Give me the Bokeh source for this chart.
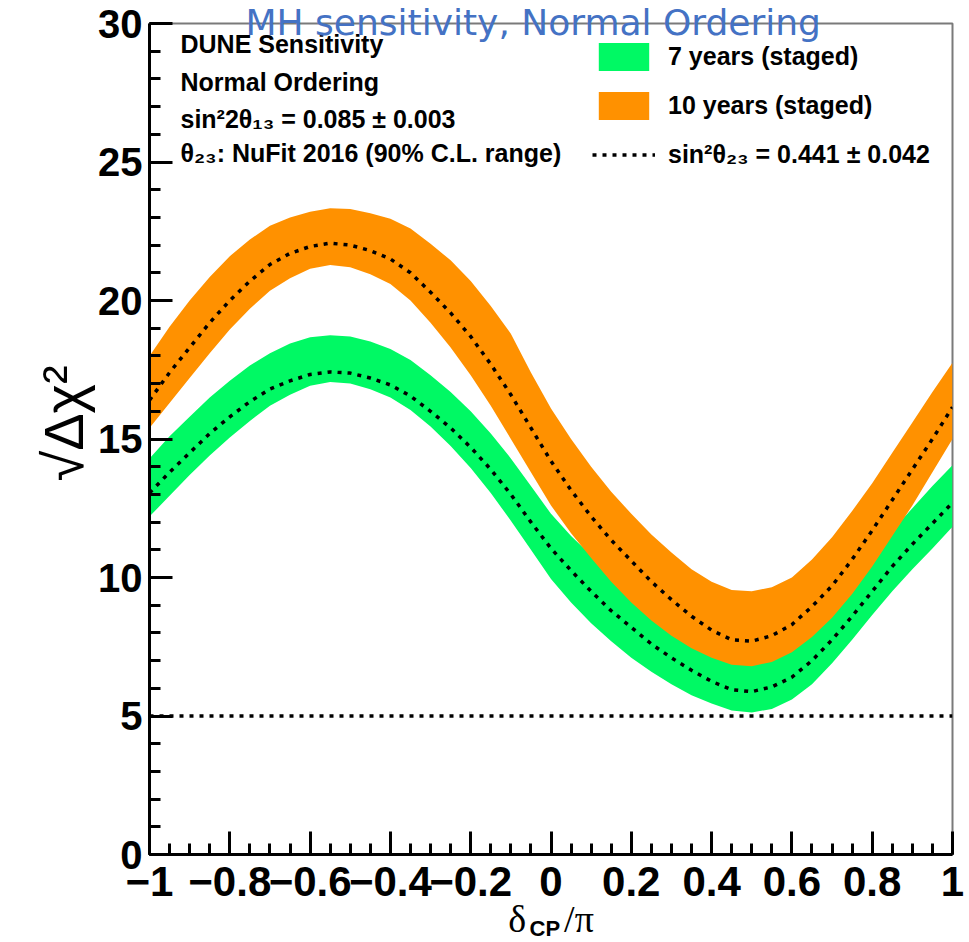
from bokeh.plotting import figure
from bokeh.models import Range1d, FixedTicker, Label, Legend, LegendItem, ColumnDataSource, Title
from bokeh.embed import file_html
from bokeh.resources import INLINE

# ---- data ----
delta_cp = [-1.00, -0.95, -0.90, -0.85, -0.80, -0.75, -0.70, -0.65, -0.60, -0.55,
            -0.50, -0.45, -0.40, -0.35, -0.30, -0.25, -0.20, -0.15, -0.10, -0.05,
            0.00, 0.05, 0.10, 0.15, 0.20, 0.25, 0.30, 0.35, 0.40, 0.45,
            0.50, 0.55, 0.60, 0.65, 0.70, 0.75, 0.80, 0.85, 0.90, 0.95, 1.00]

# 10 years (staged): band edges and central (dotted) curve
orange_upper = [18.0, 19.05, 20.0, 20.85, 21.6, 22.2, 22.7, 23.0, 23.2, 23.33,
                23.3, 23.15, 22.95, 22.6, 22.05, 21.45, 20.7, 19.8, 18.8, 17.4,
                16.1, 15.0, 14.0, 13.1, 12.3, 11.55, 10.9, 10.3, 9.85, 9.55,
                9.5, 9.65, 10.0, 10.65, 11.45, 12.4, 13.4, 14.5, 15.6, 16.7, 17.75]
orange_center = [16.4, 17.4, 18.3, 19.2, 20.0, 20.7, 21.3, 21.7, 21.95, 22.07,
                 22.0, 21.8, 21.5, 21.0, 20.3, 19.55, 18.7, 17.7, 16.6, 15.4,
                 14.2, 13.15, 12.2, 11.35, 10.6, 9.85, 9.2, 8.6, 8.1, 7.75,
                 7.7, 7.9, 8.3, 8.95, 9.7, 10.65, 11.7, 12.8, 13.9, 15.0, 16.15]
orange_lower = [15.4, 16.3, 17.2, 18.1, 18.95, 19.7, 20.35, 20.8, 21.15, 21.28,
                21.2, 20.95, 20.6, 20.0, 19.2, 18.3, 17.3, 16.2, 15.0, 13.8,
                12.6, 11.6, 10.7, 9.85, 9.1, 8.45, 7.9, 7.45, 7.1, 6.85,
                6.8, 6.95, 7.3, 7.85, 8.55, 9.4, 10.4, 11.5, 12.6, 13.8, 15.0]

# 7 years (staged): band edges and central (dotted) curve
green_upper = [14.3, 15.1, 15.8, 16.5, 17.1, 17.65, 18.1, 18.45, 18.67, 18.75,
               18.7, 18.52, 18.25, 17.85, 17.3, 16.7, 16.0, 15.2, 14.3, 13.3,
               12.3, 11.5, 10.8, 10.1, 9.5, 8.9, 8.4, 7.95, 7.55, 7.25,
               7.2, 7.35, 7.7, 8.3, 9.05, 9.9, 10.8, 11.7, 12.5, 13.3, 14.05]
green_center = [13.05, 13.8, 14.5, 15.2, 15.8, 16.35, 16.8, 17.1, 17.33, 17.42,
                17.38, 17.2, 16.95, 16.55, 16.0, 15.4, 14.7, 13.9, 13.0, 12.0,
                11.05, 10.25, 9.5, 8.8, 8.2, 7.6, 7.1, 6.65, 6.25, 5.95,
                5.88, 6.05, 6.4, 7.0, 7.75, 8.6, 9.5, 10.4, 11.2, 11.95, 12.7]
green_lower = [12.2, 12.95, 13.7, 14.4, 15.05, 15.65, 16.2, 16.6, 16.92, 17.06,
               17.0, 16.8, 16.5, 16.05, 15.45, 14.75, 13.95, 13.05, 12.05, 11.0,
               9.95, 9.1, 8.35, 7.7, 7.1, 6.6, 6.15, 5.75, 5.45, 5.2,
               5.13, 5.25, 5.6, 6.15, 6.9, 7.75, 8.65, 9.5, 10.3, 11.05, 11.83]

# 5 sigma reference line
threshold_x = [-1.0, 1.0]
threshold_y = [5.0, 5.0]

x_ticks = [-1, -0.8, -0.6, -0.4, -0.2, 0, 0.2, 0.4, 0.6, 0.8, 1]
x_tick_labels = ["\u22121", "\u22120.8", "\u22120.6", "\u22120.4", "\u22120.2", "0",
                 "0.2", "0.4", "0.6", "0.8", "1"]
y_ticks = [0, 5, 10, 15, 20, 25, 30]
y_tick_labels = ["0", "5", "10", "15", "20", "25", "30"]

GREEN = "#00F964"
ORANGE = "#FF9100"
NB = "\u00a0"

src = ColumnDataSource(dict(x=delta_cp, ou=orange_upper, oc=orange_center, ol=orange_lower,
                            gu=green_upper, gc=green_center, gl=green_lower))

p = figure(width=969, height=942, output_backend="svg", toolbar_location=None,
           x_range=Range1d(-1, 1), y_range=Range1d(0, 30),
           min_border_left=149, min_border_right=17, min_border_top=23, min_border_bottom=87)
p.background_fill_color = "white"
p.border_fill_color = "white"
p.grid.visible = False
p.outline_line_color = "#7a7a7a"
p.outline_line_width = 2

# slide title (negative standoff keeps the top border at 23 px)
p.title.text = "MH sensitivity, Normal Ordering"
p.title.align = "left"
p.title.offset = 96
p.title.text_font = "DejaVu Sans"
p.title.text_font_style = "normal"
p.title.text_font_size = "36px"
p.title.text_color = "#4472C4"
p.title.standoff = -39

g_band = p.varea(x="x", y1="gl", y2="gu", source=src, fill_color=GREEN)
o_band = p.varea(x="x", y1="ol", y2="ou", source=src, fill_color=ORANGE)
g_line = p.line(x="x", y="gc", source=src, line_color="black", line_width=3.5, line_dash="4 6")
o_line = p.line(x="x", y="oc", source=src, line_color="black", line_width=3.5, line_dash="4 6")
p.line(x=threshold_x, y=threshold_y, line_color="black", line_width=3.5, line_dash="4 6")

minor_x = [round(-1 + 0.05 * i, 2) for i in range(41)]
minor_y = list(range(0, 31))

xa = p.xaxis[0]
ya = p.yaxis[0]
xa.ticker = FixedTicker(ticks=x_ticks, minor_ticks=minor_x)
xa.major_label_overrides = {t: l for t, l in zip(x_ticks, x_tick_labels)}
ya.ticker = FixedTicker(ticks=y_ticks, minor_ticks=minor_y)
ya.major_label_overrides = {t: l for t, l in zip(y_ticks, y_tick_labels)}

for ax in (xa, ya):
    ax.axis_line_color = "black"
    ax.axis_line_width = 3
    ax.major_tick_line_color = "black"
    ax.minor_tick_line_color = "black"
    ax.major_tick_line_width = 3
    ax.minor_tick_line_width = 3
    ax.major_tick_in = 23
    ax.major_tick_out = 0
    ax.minor_tick_in = 11
    ax.minor_tick_out = 0
    ax.major_label_text_font = "Liberation Sans"
    ax.major_label_text_font_style = "bold"
    ax.major_label_text_color = "black"

xa.major_label_text_font_size = "42px"
xa.major_label_standoff = 12
ya.major_label_text_font_size = "40px"
ya.major_label_standoff = 7

# x-axis title: delta (gap) / pi ; the lowered CP subscript is a Title in the bottom panel
xa.axis_label = "\u03b4" + NB * 4 + "/\u03c0"
xa.axis_label_text_font = "Liberation Serif"
xa.axis_label_text_font_style = "normal"
xa.axis_label_text_font_size = "38px"
xa.axis_label_text_color = "black"
xa.axis_label_standoff = -1

ya.axis_label = NB * 2 + "\u221a\u0394\u03c7\u00b2"
ya.axis_label_text_font = "Liberation Sans"
ya.axis_label_text_font_style = "normal"
ya.axis_label_text_font_size = "56px"
ya.axis_label_standoff = 0
ya.axis_label_text_color = "black"

p.add_layout(Title(text="CP", align="left", offset=380, vertical_align="top", standoff=-54,
                   text_font="Liberation Sans", text_font_style="bold",
                   text_font_size="22px", text_color="black"), "below")

# info text block (inside the frame; screen y measured up from the frame bottom)
info_lines = ["DUNE Sensitivity", "Normal Ordering",
              "sin\u00b22\u03b8\u2081\u2083 = 0.085 \u00b1 0.003",
              "\u03b8\u2082\u2083: NuFit 2016 (90% C.L. range)"]
info_y = [797, 759, 722, 688]
for txt, yy in zip(info_lines, info_y):
    p.add_layout(Label(x=31, y=yy, x_units="screen", y_units="screen", text=txt,
                       text_font="Liberation Sans", text_font_style="bold",
                       text_font_size="25px", text_color="black"))

legend = Legend(items=[LegendItem(label="7 years (staged)", renderers=[g_band]),
                       LegendItem(label="10 years (staged)", renderers=[o_band]),
                       LegendItem(label="sin\u00b2\u03b8\u2082\u2083 = 0.441 \u00b1 0.042",
                                  renderers=[o_line])],
                location=(443, 682), glyph_width=63, glyph_height=35, spacing=14,
                padding=0, margin=0, border_line_alpha=0, background_fill_alpha=0,
                label_text_font="Liberation Sans", label_text_font_style="bold",
                label_text_font_size="25px", label_standoff=13, label_text_color="black")
p.add_layout(legend)

open("out.html", "w").write(file_html(p, INLINE))
